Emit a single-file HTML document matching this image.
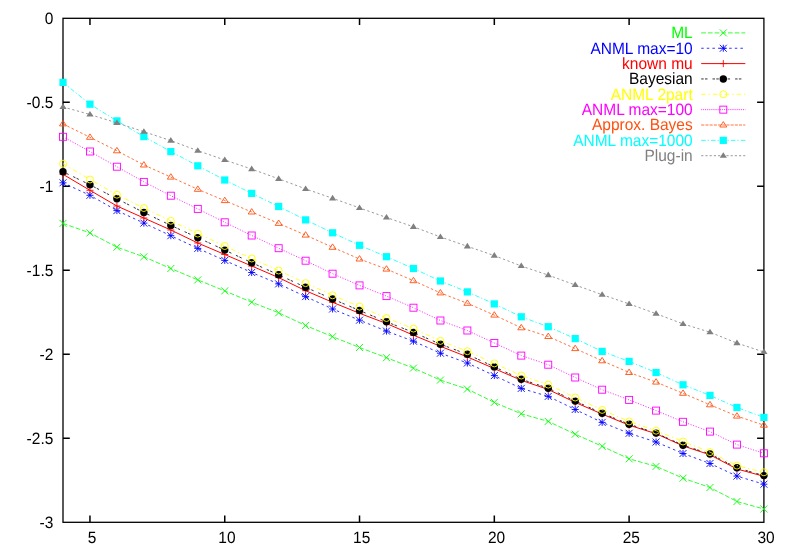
<!DOCTYPE html>
<html><head><meta charset="utf-8"><title>plot</title>
<style>
html,body{margin:0;padding:0;background:#fff;}
body{width:790px;height:553px;position:relative;overflow:hidden;font-family:"Liberation Sans",sans-serif;}
.t{font-family:"Liberation Sans",sans-serif;font-size:16.4px;text-rendering:geometricPrecision;}
</style></head><body>
<svg width="790" height="553" viewBox="0 0 790 553" style="position:absolute;left:0;top:0;will-change:transform">
<rect width="790" height="553" fill="#fff"/>
<rect x="63.0" y="18.3" width="700.9" height="503.99999999999994" fill="none" stroke="#000" stroke-width="1.3"/>
<text transform="translate(53.30,23.80) scale(0.945,1)" text-anchor="end" class="t">0</text>
<text transform="translate(53.30,107.80) scale(0.945,1)" text-anchor="end" class="t">-0.5</text>
<text transform="translate(53.30,191.80) scale(0.945,1)" text-anchor="end" class="t">-1</text>
<text transform="translate(53.30,275.80) scale(0.945,1)" text-anchor="end" class="t">-1.5</text>
<text transform="translate(53.30,359.80) scale(0.945,1)" text-anchor="end" class="t">-2</text>
<text transform="translate(53.30,443.80) scale(0.945,1)" text-anchor="end" class="t">-2.5</text>
<text transform="translate(53.30,527.80) scale(0.945,1)" text-anchor="end" class="t">-3</text>
<text transform="translate(92.16,543.20) scale(0.945,1)" text-anchor="middle" class="t">5</text>
<text transform="translate(226.95,543.20) scale(0.945,1)" text-anchor="middle" class="t">10</text>
<text transform="translate(361.73,543.20) scale(0.945,1)" text-anchor="middle" class="t">15</text>
<text transform="translate(496.52,543.20) scale(0.945,1)" text-anchor="middle" class="t">20</text>
<text transform="translate(631.31,543.20) scale(0.945,1)" text-anchor="middle" class="t">25</text>
<text transform="translate(766.10,543.20) scale(0.945,1)" text-anchor="middle" class="t">30</text>
<path d="M63.0,102.30h6.8M763.9,102.30h-6.8M63.0,186.30h6.8M763.9,186.30h-6.8M63.0,270.30h6.8M763.9,270.30h-6.8M63.0,354.30h6.8M763.9,354.30h-6.8M63.0,438.30h6.8M763.9,438.30h-6.8M89.96,522.3v-6.8M89.96,18.3v6.8M224.75,522.3v-6.8M224.75,18.3v6.8M359.53,522.3v-6.8M359.53,18.3v6.8M494.32,522.3v-6.8M494.32,18.3v6.8M629.11,522.3v-6.8M629.11,18.3v6.8" stroke="#000" stroke-width="1.5" fill="none"/>
<text transform="translate(692.70,38.30) scale(0.945,1)" text-anchor="end" class="t" fill="#00ff00">ML</text>
<path d="M701.2,32.90H745.3" stroke="#00ff00" stroke-width="0.8" stroke-dasharray="4.7,2" fill="none"/>
<path d="M719.80,29.40L726.80,36.40M719.80,36.40L726.80,29.40" stroke="#00ff00" stroke-width="0.9" fill="none"/>
<polyline points="63.00,223.40 89.96,232.90 116.92,247.20 143.87,256.80 170.83,268.50 197.79,279.90 224.75,290.90 251.70,302.20 278.66,312.80 305.62,325.50 332.58,336.70 359.53,347.50 386.49,357.70 413.45,368.10 440.41,380.10 467.37,389.10 494.32,402.40 521.28,413.80 548.24,421.40 575.20,434.20 602.15,446.30 629.11,458.80 656.07,466.40 683.03,478.20 709.98,487.50 736.94,501.50 763.90,509.00" stroke="#00ff00" stroke-width="0.8" stroke-dasharray="4.7,2" fill="none"/>
<path d="M59.50,219.90L66.50,226.90M59.50,226.90L66.50,219.90" stroke="#00ff00" stroke-width="0.9" fill="none"/>
<path d="M86.46,229.40L93.46,236.40M86.46,236.40L93.46,229.40" stroke="#00ff00" stroke-width="0.9" fill="none"/>
<path d="M113.42,243.70L120.42,250.70M113.42,250.70L120.42,243.70" stroke="#00ff00" stroke-width="0.9" fill="none"/>
<path d="M140.37,253.30L147.37,260.30M140.37,260.30L147.37,253.30" stroke="#00ff00" stroke-width="0.9" fill="none"/>
<path d="M167.33,265.00L174.33,272.00M167.33,272.00L174.33,265.00" stroke="#00ff00" stroke-width="0.9" fill="none"/>
<path d="M194.29,276.40L201.29,283.40M194.29,283.40L201.29,276.40" stroke="#00ff00" stroke-width="0.9" fill="none"/>
<path d="M221.25,287.40L228.25,294.40M221.25,294.40L228.25,287.40" stroke="#00ff00" stroke-width="0.9" fill="none"/>
<path d="M248.20,298.70L255.20,305.70M248.20,305.70L255.20,298.70" stroke="#00ff00" stroke-width="0.9" fill="none"/>
<path d="M275.16,309.30L282.16,316.30M275.16,316.30L282.16,309.30" stroke="#00ff00" stroke-width="0.9" fill="none"/>
<path d="M302.12,322.00L309.12,329.00M302.12,329.00L309.12,322.00" stroke="#00ff00" stroke-width="0.9" fill="none"/>
<path d="M329.08,333.20L336.08,340.20M329.08,340.20L336.08,333.20" stroke="#00ff00" stroke-width="0.9" fill="none"/>
<path d="M356.03,344.00L363.03,351.00M356.03,351.00L363.03,344.00" stroke="#00ff00" stroke-width="0.9" fill="none"/>
<path d="M382.99,354.20L389.99,361.20M382.99,361.20L389.99,354.20" stroke="#00ff00" stroke-width="0.9" fill="none"/>
<path d="M409.95,364.60L416.95,371.60M409.95,371.60L416.95,364.60" stroke="#00ff00" stroke-width="0.9" fill="none"/>
<path d="M436.91,376.60L443.91,383.60M436.91,383.60L443.91,376.60" stroke="#00ff00" stroke-width="0.9" fill="none"/>
<path d="M463.87,385.60L470.87,392.60M463.87,392.60L470.87,385.60" stroke="#00ff00" stroke-width="0.9" fill="none"/>
<path d="M490.82,398.90L497.82,405.90M490.82,405.90L497.82,398.90" stroke="#00ff00" stroke-width="0.9" fill="none"/>
<path d="M517.78,410.30L524.78,417.30M517.78,417.30L524.78,410.30" stroke="#00ff00" stroke-width="0.9" fill="none"/>
<path d="M544.74,417.90L551.74,424.90M544.74,424.90L551.74,417.90" stroke="#00ff00" stroke-width="0.9" fill="none"/>
<path d="M571.70,430.70L578.70,437.70M571.70,437.70L578.70,430.70" stroke="#00ff00" stroke-width="0.9" fill="none"/>
<path d="M598.65,442.80L605.65,449.80M598.65,449.80L605.65,442.80" stroke="#00ff00" stroke-width="0.9" fill="none"/>
<path d="M625.61,455.30L632.61,462.30M625.61,462.30L632.61,455.30" stroke="#00ff00" stroke-width="0.9" fill="none"/>
<path d="M652.57,462.90L659.57,469.90M652.57,469.90L659.57,462.90" stroke="#00ff00" stroke-width="0.9" fill="none"/>
<path d="M679.53,474.70L686.53,481.70M679.53,481.70L686.53,474.70" stroke="#00ff00" stroke-width="0.9" fill="none"/>
<path d="M706.48,484.00L713.48,491.00M706.48,491.00L713.48,484.00" stroke="#00ff00" stroke-width="0.9" fill="none"/>
<path d="M733.44,498.00L740.44,505.00M733.44,505.00L740.44,498.00" stroke="#00ff00" stroke-width="0.9" fill="none"/>
<path d="M760.40,505.50L767.40,512.50M760.40,512.50L767.40,505.50" stroke="#00ff00" stroke-width="0.9" fill="none"/>
<text transform="translate(692.70,53.65) scale(0.945,1)" text-anchor="end" class="t" fill="#0000ff">ANML max=10</text>
<path d="M701.2,48.25H745.3" stroke="#0000ff" stroke-width="0.8" stroke-dasharray="2.5,3.1" fill="none"/>
<path d="M719.80,44.75L726.80,51.75M719.80,51.75L726.80,44.75M719.80,48.25L726.80,48.25M723.30,44.75L723.30,51.75" stroke="#0000ff" stroke-width="0.9" fill="none"/>
<polyline points="63.00,182.80 89.96,195.30 116.92,210.60 143.87,223.10 170.83,235.70 197.79,248.40 224.75,260.40 251.70,272.50 278.66,283.90 305.62,296.60 332.58,309.00 359.53,320.20 386.49,331.10 413.45,341.20 440.41,353.20 467.37,363.00 494.32,375.60 521.28,388.40 548.24,396.40 575.20,409.50 602.15,422.40 629.11,433.30 656.07,442.00 683.03,453.50 709.98,463.50 736.94,476.10 763.90,484.20" stroke="#0000ff" stroke-width="0.8" stroke-dasharray="2.5,3.1" fill="none"/>
<path d="M59.50,179.30L66.50,186.30M59.50,186.30L66.50,179.30M59.50,182.80L66.50,182.80M63.00,179.30L63.00,186.30" stroke="#0000ff" stroke-width="0.9" fill="none"/>
<path d="M86.46,191.80L93.46,198.80M86.46,198.80L93.46,191.80M86.46,195.30L93.46,195.30M89.96,191.80L89.96,198.80" stroke="#0000ff" stroke-width="0.9" fill="none"/>
<path d="M113.42,207.10L120.42,214.10M113.42,214.10L120.42,207.10M113.42,210.60L120.42,210.60M116.92,207.10L116.92,214.10" stroke="#0000ff" stroke-width="0.9" fill="none"/>
<path d="M140.37,219.60L147.37,226.60M140.37,226.60L147.37,219.60M140.37,223.10L147.37,223.10M143.87,219.60L143.87,226.60" stroke="#0000ff" stroke-width="0.9" fill="none"/>
<path d="M167.33,232.20L174.33,239.20M167.33,239.20L174.33,232.20M167.33,235.70L174.33,235.70M170.83,232.20L170.83,239.20" stroke="#0000ff" stroke-width="0.9" fill="none"/>
<path d="M194.29,244.90L201.29,251.90M194.29,251.90L201.29,244.90M194.29,248.40L201.29,248.40M197.79,244.90L197.79,251.90" stroke="#0000ff" stroke-width="0.9" fill="none"/>
<path d="M221.25,256.90L228.25,263.90M221.25,263.90L228.25,256.90M221.25,260.40L228.25,260.40M224.75,256.90L224.75,263.90" stroke="#0000ff" stroke-width="0.9" fill="none"/>
<path d="M248.20,269.00L255.20,276.00M248.20,276.00L255.20,269.00M248.20,272.50L255.20,272.50M251.70,269.00L251.70,276.00" stroke="#0000ff" stroke-width="0.9" fill="none"/>
<path d="M275.16,280.40L282.16,287.40M275.16,287.40L282.16,280.40M275.16,283.90L282.16,283.90M278.66,280.40L278.66,287.40" stroke="#0000ff" stroke-width="0.9" fill="none"/>
<path d="M302.12,293.10L309.12,300.10M302.12,300.10L309.12,293.10M302.12,296.60L309.12,296.60M305.62,293.10L305.62,300.10" stroke="#0000ff" stroke-width="0.9" fill="none"/>
<path d="M329.08,305.50L336.08,312.50M329.08,312.50L336.08,305.50M329.08,309.00L336.08,309.00M332.58,305.50L332.58,312.50" stroke="#0000ff" stroke-width="0.9" fill="none"/>
<path d="M356.03,316.70L363.03,323.70M356.03,323.70L363.03,316.70M356.03,320.20L363.03,320.20M359.53,316.70L359.53,323.70" stroke="#0000ff" stroke-width="0.9" fill="none"/>
<path d="M382.99,327.60L389.99,334.60M382.99,334.60L389.99,327.60M382.99,331.10L389.99,331.10M386.49,327.60L386.49,334.60" stroke="#0000ff" stroke-width="0.9" fill="none"/>
<path d="M409.95,337.70L416.95,344.70M409.95,344.70L416.95,337.70M409.95,341.20L416.95,341.20M413.45,337.70L413.45,344.70" stroke="#0000ff" stroke-width="0.9" fill="none"/>
<path d="M436.91,349.70L443.91,356.70M436.91,356.70L443.91,349.70M436.91,353.20L443.91,353.20M440.41,349.70L440.41,356.70" stroke="#0000ff" stroke-width="0.9" fill="none"/>
<path d="M463.87,359.50L470.87,366.50M463.87,366.50L470.87,359.50M463.87,363.00L470.87,363.00M467.37,359.50L467.37,366.50" stroke="#0000ff" stroke-width="0.9" fill="none"/>
<path d="M490.82,372.10L497.82,379.10M490.82,379.10L497.82,372.10M490.82,375.60L497.82,375.60M494.32,372.10L494.32,379.10" stroke="#0000ff" stroke-width="0.9" fill="none"/>
<path d="M517.78,384.90L524.78,391.90M517.78,391.90L524.78,384.90M517.78,388.40L524.78,388.40M521.28,384.90L521.28,391.90" stroke="#0000ff" stroke-width="0.9" fill="none"/>
<path d="M544.74,392.90L551.74,399.90M544.74,399.90L551.74,392.90M544.74,396.40L551.74,396.40M548.24,392.90L548.24,399.90" stroke="#0000ff" stroke-width="0.9" fill="none"/>
<path d="M571.70,406.00L578.70,413.00M571.70,413.00L578.70,406.00M571.70,409.50L578.70,409.50M575.20,406.00L575.20,413.00" stroke="#0000ff" stroke-width="0.9" fill="none"/>
<path d="M598.65,418.90L605.65,425.90M598.65,425.90L605.65,418.90M598.65,422.40L605.65,422.40M602.15,418.90L602.15,425.90" stroke="#0000ff" stroke-width="0.9" fill="none"/>
<path d="M625.61,429.80L632.61,436.80M625.61,436.80L632.61,429.80M625.61,433.30L632.61,433.30M629.11,429.80L629.11,436.80" stroke="#0000ff" stroke-width="0.9" fill="none"/>
<path d="M652.57,438.50L659.57,445.50M652.57,445.50L659.57,438.50M652.57,442.00L659.57,442.00M656.07,438.50L656.07,445.50" stroke="#0000ff" stroke-width="0.9" fill="none"/>
<path d="M679.53,450.00L686.53,457.00M679.53,457.00L686.53,450.00M679.53,453.50L686.53,453.50M683.03,450.00L683.03,457.00" stroke="#0000ff" stroke-width="0.9" fill="none"/>
<path d="M706.48,460.00L713.48,467.00M706.48,467.00L713.48,460.00M706.48,463.50L713.48,463.50M709.98,460.00L709.98,467.00" stroke="#0000ff" stroke-width="0.9" fill="none"/>
<path d="M733.44,472.60L740.44,479.60M733.44,479.60L740.44,472.60M733.44,476.10L740.44,476.10M736.94,472.60L736.94,479.60" stroke="#0000ff" stroke-width="0.9" fill="none"/>
<path d="M760.40,480.70L767.40,487.70M760.40,487.70L767.40,480.70M760.40,484.20L767.40,484.20M763.90,480.70L763.90,487.70" stroke="#0000ff" stroke-width="0.9" fill="none"/>
<text transform="translate(692.70,69.00) scale(0.945,1)" text-anchor="end" class="t" fill="#ff0000">known mu</text>
<path d="M701.2,63.60H745.3" stroke="#ff0000" stroke-width="1.0" fill="none"/>
<path d="M719.80,63.60L726.80,63.60M723.30,60.10L723.30,67.10" stroke="#ff0000" stroke-width="0.9" fill="none"/>
<polyline points="63.00,174.30 89.96,190.30 116.92,206.00 143.87,218.00 170.83,230.00 197.79,243.00 224.75,254.50 251.70,266.00 278.66,277.60 305.62,290.70 332.58,302.30 359.53,313.30 386.49,323.50 413.45,335.20 440.41,346.30 467.37,356.90 494.32,368.60 521.28,380.30 548.24,389.50 575.20,402.40 602.15,414.10 629.11,425.20 656.07,433.70 683.03,445.90 709.98,454.80 736.94,469.00 763.90,476.30" stroke="#ff0000" stroke-width="1.0" fill="none"/>
<path d="M59.50,174.30L66.50,174.30M63.00,170.80L63.00,177.80" stroke="#ff0000" stroke-width="0.9" fill="none"/>
<path d="M86.46,190.30L93.46,190.30M89.96,186.80L89.96,193.80" stroke="#ff0000" stroke-width="0.9" fill="none"/>
<path d="M113.42,206.00L120.42,206.00M116.92,202.50L116.92,209.50" stroke="#ff0000" stroke-width="0.9" fill="none"/>
<path d="M140.37,218.00L147.37,218.00M143.87,214.50L143.87,221.50" stroke="#ff0000" stroke-width="0.9" fill="none"/>
<path d="M167.33,230.00L174.33,230.00M170.83,226.50L170.83,233.50" stroke="#ff0000" stroke-width="0.9" fill="none"/>
<path d="M194.29,243.00L201.29,243.00M197.79,239.50L197.79,246.50" stroke="#ff0000" stroke-width="0.9" fill="none"/>
<path d="M221.25,254.50L228.25,254.50M224.75,251.00L224.75,258.00" stroke="#ff0000" stroke-width="0.9" fill="none"/>
<path d="M248.20,266.00L255.20,266.00M251.70,262.50L251.70,269.50" stroke="#ff0000" stroke-width="0.9" fill="none"/>
<path d="M275.16,277.60L282.16,277.60M278.66,274.10L278.66,281.10" stroke="#ff0000" stroke-width="0.9" fill="none"/>
<path d="M302.12,290.70L309.12,290.70M305.62,287.20L305.62,294.20" stroke="#ff0000" stroke-width="0.9" fill="none"/>
<path d="M329.08,302.30L336.08,302.30M332.58,298.80L332.58,305.80" stroke="#ff0000" stroke-width="0.9" fill="none"/>
<path d="M356.03,313.30L363.03,313.30M359.53,309.80L359.53,316.80" stroke="#ff0000" stroke-width="0.9" fill="none"/>
<path d="M382.99,323.50L389.99,323.50M386.49,320.00L386.49,327.00" stroke="#ff0000" stroke-width="0.9" fill="none"/>
<path d="M409.95,335.20L416.95,335.20M413.45,331.70L413.45,338.70" stroke="#ff0000" stroke-width="0.9" fill="none"/>
<path d="M436.91,346.30L443.91,346.30M440.41,342.80L440.41,349.80" stroke="#ff0000" stroke-width="0.9" fill="none"/>
<path d="M463.87,356.90L470.87,356.90M467.37,353.40L467.37,360.40" stroke="#ff0000" stroke-width="0.9" fill="none"/>
<path d="M490.82,368.60L497.82,368.60M494.32,365.10L494.32,372.10" stroke="#ff0000" stroke-width="0.9" fill="none"/>
<path d="M517.78,380.30L524.78,380.30M521.28,376.80L521.28,383.80" stroke="#ff0000" stroke-width="0.9" fill="none"/>
<path d="M544.74,389.50L551.74,389.50M548.24,386.00L548.24,393.00" stroke="#ff0000" stroke-width="0.9" fill="none"/>
<path d="M571.70,402.40L578.70,402.40M575.20,398.90L575.20,405.90" stroke="#ff0000" stroke-width="0.9" fill="none"/>
<path d="M598.65,414.10L605.65,414.10M602.15,410.60L602.15,417.60" stroke="#ff0000" stroke-width="0.9" fill="none"/>
<path d="M625.61,425.20L632.61,425.20M629.11,421.70L629.11,428.70" stroke="#ff0000" stroke-width="0.9" fill="none"/>
<path d="M652.57,433.70L659.57,433.70M656.07,430.20L656.07,437.20" stroke="#ff0000" stroke-width="0.9" fill="none"/>
<path d="M679.53,445.90L686.53,445.90M683.03,442.40L683.03,449.40" stroke="#ff0000" stroke-width="0.9" fill="none"/>
<path d="M706.48,454.80L713.48,454.80M709.98,451.30L709.98,458.30" stroke="#ff0000" stroke-width="0.9" fill="none"/>
<path d="M733.44,469.00L740.44,469.00M736.94,465.50L736.94,472.50" stroke="#ff0000" stroke-width="0.9" fill="none"/>
<path d="M760.40,476.30L767.40,476.30M763.90,472.80L763.90,479.80" stroke="#ff0000" stroke-width="0.9" fill="none"/>
<text transform="translate(692.70,84.35) scale(0.945,1)" text-anchor="end" class="t" fill="#000000">Bayesian</text>
<path d="M701.2,78.95H745.3" stroke="#000000" stroke-width="0.8" stroke-dasharray="2.5,1.3,2.5,5" fill="none"/>
<circle cx="723.30" cy="78.95" r="3.7" fill="#000000"/>
<polyline points="63.00,171.70 89.96,184.80 116.92,198.80 143.87,212.50 170.83,225.40 197.79,237.70 224.75,250.10 251.70,262.70 278.66,274.80 305.62,287.30 332.58,299.00 359.53,310.50 386.49,321.80 413.45,332.40 440.41,344.20 467.37,354.30 494.32,366.90 521.28,379.20 548.24,388.20 575.20,401.10 602.15,413.20 629.11,424.20 656.07,433.10 683.03,445.20 709.98,453.90 736.94,467.80 763.90,475.60" stroke="#000000" stroke-width="0.8" stroke-dasharray="2.5,1.3,2.5,5" fill="none"/>
<circle cx="63.00" cy="171.70" r="3.7" fill="#000000"/>
<circle cx="89.96" cy="184.80" r="3.7" fill="#000000"/>
<circle cx="116.92" cy="198.80" r="3.7" fill="#000000"/>
<circle cx="143.87" cy="212.50" r="3.7" fill="#000000"/>
<circle cx="170.83" cy="225.40" r="3.7" fill="#000000"/>
<circle cx="197.79" cy="237.70" r="3.7" fill="#000000"/>
<circle cx="224.75" cy="250.10" r="3.7" fill="#000000"/>
<circle cx="251.70" cy="262.70" r="3.7" fill="#000000"/>
<circle cx="278.66" cy="274.80" r="3.7" fill="#000000"/>
<circle cx="305.62" cy="287.30" r="3.7" fill="#000000"/>
<circle cx="332.58" cy="299.00" r="3.7" fill="#000000"/>
<circle cx="359.53" cy="310.50" r="3.7" fill="#000000"/>
<circle cx="386.49" cy="321.80" r="3.7" fill="#000000"/>
<circle cx="413.45" cy="332.40" r="3.7" fill="#000000"/>
<circle cx="440.41" cy="344.20" r="3.7" fill="#000000"/>
<circle cx="467.37" cy="354.30" r="3.7" fill="#000000"/>
<circle cx="494.32" cy="366.90" r="3.7" fill="#000000"/>
<circle cx="521.28" cy="379.20" r="3.7" fill="#000000"/>
<circle cx="548.24" cy="388.20" r="3.7" fill="#000000"/>
<circle cx="575.20" cy="401.10" r="3.7" fill="#000000"/>
<circle cx="602.15" cy="413.20" r="3.7" fill="#000000"/>
<circle cx="629.11" cy="424.20" r="3.7" fill="#000000"/>
<circle cx="656.07" cy="433.10" r="3.7" fill="#000000"/>
<circle cx="683.03" cy="445.20" r="3.7" fill="#000000"/>
<circle cx="709.98" cy="453.90" r="3.7" fill="#000000"/>
<circle cx="736.94" cy="467.80" r="3.7" fill="#000000"/>
<circle cx="763.90" cy="475.60" r="3.7" fill="#000000"/>
<text transform="translate(692.70,99.70) scale(0.945,1)" text-anchor="end" class="t" fill="#ffff00">ANML 2part</text>
<path d="M701.2,94.30H745.3" stroke="#ffff00" stroke-width="0.8" stroke-dasharray="4.5,2.9,1.4,3" fill="none"/>
<circle cx="723.30" cy="94.30" r="3.5" fill="none" stroke="#ffff00" stroke-width="0.9"/>
<polyline points="63.00,163.70 89.96,179.50 116.92,194.70 143.87,208.00 170.83,220.80 197.79,233.60 224.75,246.00 251.70,258.50 278.66,270.50 305.62,283.10 332.58,295.30 359.53,306.60 386.49,318.00 413.45,328.60 440.41,340.90 467.37,351.20 494.32,363.40 521.28,375.50 548.24,384.60 575.20,397.50 602.15,409.90 629.11,421.40 656.07,430.70 683.03,441.50 709.98,452.10 736.94,465.60 763.90,472.30" stroke="#ffff00" stroke-width="0.8" stroke-dasharray="4.5,2.9,1.4,3" fill="none"/>
<circle cx="63.00" cy="163.70" r="3.5" fill="none" stroke="#ffff00" stroke-width="0.9"/>
<circle cx="89.96" cy="179.50" r="3.5" fill="none" stroke="#ffff00" stroke-width="0.9"/>
<circle cx="116.92" cy="194.70" r="3.5" fill="none" stroke="#ffff00" stroke-width="0.9"/>
<circle cx="143.87" cy="208.00" r="3.5" fill="none" stroke="#ffff00" stroke-width="0.9"/>
<circle cx="170.83" cy="220.80" r="3.5" fill="none" stroke="#ffff00" stroke-width="0.9"/>
<circle cx="197.79" cy="233.60" r="3.5" fill="none" stroke="#ffff00" stroke-width="0.9"/>
<circle cx="224.75" cy="246.00" r="3.5" fill="none" stroke="#ffff00" stroke-width="0.9"/>
<circle cx="251.70" cy="258.50" r="3.5" fill="none" stroke="#ffff00" stroke-width="0.9"/>
<circle cx="278.66" cy="270.50" r="3.5" fill="none" stroke="#ffff00" stroke-width="0.9"/>
<circle cx="305.62" cy="283.10" r="3.5" fill="none" stroke="#ffff00" stroke-width="0.9"/>
<circle cx="332.58" cy="295.30" r="3.5" fill="none" stroke="#ffff00" stroke-width="0.9"/>
<circle cx="359.53" cy="306.60" r="3.5" fill="none" stroke="#ffff00" stroke-width="0.9"/>
<circle cx="386.49" cy="318.00" r="3.5" fill="none" stroke="#ffff00" stroke-width="0.9"/>
<circle cx="413.45" cy="328.60" r="3.5" fill="none" stroke="#ffff00" stroke-width="0.9"/>
<circle cx="440.41" cy="340.90" r="3.5" fill="none" stroke="#ffff00" stroke-width="0.9"/>
<circle cx="467.37" cy="351.20" r="3.5" fill="none" stroke="#ffff00" stroke-width="0.9"/>
<circle cx="494.32" cy="363.40" r="3.5" fill="none" stroke="#ffff00" stroke-width="0.9"/>
<circle cx="521.28" cy="375.50" r="3.5" fill="none" stroke="#ffff00" stroke-width="0.9"/>
<circle cx="548.24" cy="384.60" r="3.5" fill="none" stroke="#ffff00" stroke-width="0.9"/>
<circle cx="575.20" cy="397.50" r="3.5" fill="none" stroke="#ffff00" stroke-width="0.9"/>
<circle cx="602.15" cy="409.90" r="3.5" fill="none" stroke="#ffff00" stroke-width="0.9"/>
<circle cx="629.11" cy="421.40" r="3.5" fill="none" stroke="#ffff00" stroke-width="0.9"/>
<circle cx="656.07" cy="430.70" r="3.5" fill="none" stroke="#ffff00" stroke-width="0.9"/>
<circle cx="683.03" cy="441.50" r="3.5" fill="none" stroke="#ffff00" stroke-width="0.9"/>
<circle cx="709.98" cy="452.10" r="3.5" fill="none" stroke="#ffff00" stroke-width="0.9"/>
<circle cx="736.94" cy="465.60" r="3.5" fill="none" stroke="#ffff00" stroke-width="0.9"/>
<circle cx="763.90" cy="472.30" r="3.5" fill="none" stroke="#ffff00" stroke-width="0.9"/>
<text transform="translate(692.70,115.05) scale(0.945,1)" text-anchor="end" class="t" fill="#ff00ff">ANML max=100</text>
<path d="M701.2,109.65H745.3" stroke="#ff00ff" stroke-width="0.8" stroke-dasharray="1,0.9" fill="none"/>
<rect x="719.80" y="106.15" width="7.0" height="7.0" fill="none" stroke="#ff00ff" stroke-width="0.9"/>
<polyline points="63.00,136.80 89.96,151.50 116.92,166.70 143.87,181.90 170.83,195.70 197.79,208.90 224.75,222.30 251.70,235.50 278.66,248.20 305.62,260.70 332.58,273.70 359.53,285.40 386.49,296.10 413.45,307.70 440.41,320.50 467.37,330.50 494.32,343.00 521.28,355.60 548.24,364.70 575.20,377.50 602.15,389.70 629.11,399.90 656.07,410.60 683.03,421.80 709.98,431.60 736.94,444.60 763.90,453.30" stroke="#ff00ff" stroke-width="0.8" stroke-dasharray="1.1,1.6" fill="none"/>
<rect x="59.50" y="133.30" width="7.0" height="7.0" fill="none" stroke="#ff00ff" stroke-width="0.9"/>
<rect x="86.46" y="148.00" width="7.0" height="7.0" fill="none" stroke="#ff00ff" stroke-width="0.9"/>
<rect x="113.42" y="163.20" width="7.0" height="7.0" fill="none" stroke="#ff00ff" stroke-width="0.9"/>
<rect x="140.37" y="178.40" width="7.0" height="7.0" fill="none" stroke="#ff00ff" stroke-width="0.9"/>
<rect x="167.33" y="192.20" width="7.0" height="7.0" fill="none" stroke="#ff00ff" stroke-width="0.9"/>
<rect x="194.29" y="205.40" width="7.0" height="7.0" fill="none" stroke="#ff00ff" stroke-width="0.9"/>
<rect x="221.25" y="218.80" width="7.0" height="7.0" fill="none" stroke="#ff00ff" stroke-width="0.9"/>
<rect x="248.20" y="232.00" width="7.0" height="7.0" fill="none" stroke="#ff00ff" stroke-width="0.9"/>
<rect x="275.16" y="244.70" width="7.0" height="7.0" fill="none" stroke="#ff00ff" stroke-width="0.9"/>
<rect x="302.12" y="257.20" width="7.0" height="7.0" fill="none" stroke="#ff00ff" stroke-width="0.9"/>
<rect x="329.08" y="270.20" width="7.0" height="7.0" fill="none" stroke="#ff00ff" stroke-width="0.9"/>
<rect x="356.03" y="281.90" width="7.0" height="7.0" fill="none" stroke="#ff00ff" stroke-width="0.9"/>
<rect x="382.99" y="292.60" width="7.0" height="7.0" fill="none" stroke="#ff00ff" stroke-width="0.9"/>
<rect x="409.95" y="304.20" width="7.0" height="7.0" fill="none" stroke="#ff00ff" stroke-width="0.9"/>
<rect x="436.91" y="317.00" width="7.0" height="7.0" fill="none" stroke="#ff00ff" stroke-width="0.9"/>
<rect x="463.87" y="327.00" width="7.0" height="7.0" fill="none" stroke="#ff00ff" stroke-width="0.9"/>
<rect x="490.82" y="339.50" width="7.0" height="7.0" fill="none" stroke="#ff00ff" stroke-width="0.9"/>
<rect x="517.78" y="352.10" width="7.0" height="7.0" fill="none" stroke="#ff00ff" stroke-width="0.9"/>
<rect x="544.74" y="361.20" width="7.0" height="7.0" fill="none" stroke="#ff00ff" stroke-width="0.9"/>
<rect x="571.70" y="374.00" width="7.0" height="7.0" fill="none" stroke="#ff00ff" stroke-width="0.9"/>
<rect x="598.65" y="386.20" width="7.0" height="7.0" fill="none" stroke="#ff00ff" stroke-width="0.9"/>
<rect x="625.61" y="396.40" width="7.0" height="7.0" fill="none" stroke="#ff00ff" stroke-width="0.9"/>
<rect x="652.57" y="407.10" width="7.0" height="7.0" fill="none" stroke="#ff00ff" stroke-width="0.9"/>
<rect x="679.53" y="418.30" width="7.0" height="7.0" fill="none" stroke="#ff00ff" stroke-width="0.9"/>
<rect x="706.48" y="428.10" width="7.0" height="7.0" fill="none" stroke="#ff00ff" stroke-width="0.9"/>
<rect x="733.44" y="441.10" width="7.0" height="7.0" fill="none" stroke="#ff00ff" stroke-width="0.9"/>
<rect x="760.40" y="449.80" width="7.0" height="7.0" fill="none" stroke="#ff00ff" stroke-width="0.9"/>
<text transform="translate(692.70,130.40) scale(0.945,1)" text-anchor="end" class="t" fill="#ff5010">Approx. Bayes</text>
<path d="M701.2,125.00H745.3" stroke="#ff5010" stroke-width="0.8" stroke-dasharray="3.1,1.1" fill="none"/>
<path d="M723.30,121.60L719.80,127.00L726.80,127.00Z" fill="none" stroke="#ff5010" stroke-width="0.9"/>
<polyline points="63.00,123.90 89.96,137.30 116.92,150.80 143.87,165.00 170.83,177.10 197.79,189.30 224.75,200.60 251.70,212.00 278.66,223.40 305.62,235.10 332.58,247.30 359.53,259.00 386.49,269.10 413.45,280.70 440.41,292.90 467.37,303.30 494.32,315.10 521.28,327.80 548.24,336.50 575.20,348.60 602.15,360.80 629.11,372.50 656.07,382.10 683.03,393.30 709.98,404.80 736.94,416.10 763.90,425.20" stroke="#ff5010" stroke-width="0.8" stroke-dasharray="2.5,2.3" fill="none"/>
<path d="M63.00,120.50L59.50,125.90L66.50,125.90Z" fill="none" stroke="#ff5010" stroke-width="0.9"/>
<path d="M89.96,133.90L86.46,139.30L93.46,139.30Z" fill="none" stroke="#ff5010" stroke-width="0.9"/>
<path d="M116.92,147.40L113.42,152.80L120.42,152.80Z" fill="none" stroke="#ff5010" stroke-width="0.9"/>
<path d="M143.87,161.60L140.37,167.00L147.37,167.00Z" fill="none" stroke="#ff5010" stroke-width="0.9"/>
<path d="M170.83,173.70L167.33,179.10L174.33,179.10Z" fill="none" stroke="#ff5010" stroke-width="0.9"/>
<path d="M197.79,185.90L194.29,191.30L201.29,191.30Z" fill="none" stroke="#ff5010" stroke-width="0.9"/>
<path d="M224.75,197.20L221.25,202.60L228.25,202.60Z" fill="none" stroke="#ff5010" stroke-width="0.9"/>
<path d="M251.70,208.60L248.20,214.00L255.20,214.00Z" fill="none" stroke="#ff5010" stroke-width="0.9"/>
<path d="M278.66,220.00L275.16,225.40L282.16,225.40Z" fill="none" stroke="#ff5010" stroke-width="0.9"/>
<path d="M305.62,231.70L302.12,237.10L309.12,237.10Z" fill="none" stroke="#ff5010" stroke-width="0.9"/>
<path d="M332.58,243.90L329.08,249.30L336.08,249.30Z" fill="none" stroke="#ff5010" stroke-width="0.9"/>
<path d="M359.53,255.60L356.03,261.00L363.03,261.00Z" fill="none" stroke="#ff5010" stroke-width="0.9"/>
<path d="M386.49,265.70L382.99,271.10L389.99,271.10Z" fill="none" stroke="#ff5010" stroke-width="0.9"/>
<path d="M413.45,277.30L409.95,282.70L416.95,282.70Z" fill="none" stroke="#ff5010" stroke-width="0.9"/>
<path d="M440.41,289.50L436.91,294.90L443.91,294.90Z" fill="none" stroke="#ff5010" stroke-width="0.9"/>
<path d="M467.37,299.90L463.87,305.30L470.87,305.30Z" fill="none" stroke="#ff5010" stroke-width="0.9"/>
<path d="M494.32,311.70L490.82,317.10L497.82,317.10Z" fill="none" stroke="#ff5010" stroke-width="0.9"/>
<path d="M521.28,324.40L517.78,329.80L524.78,329.80Z" fill="none" stroke="#ff5010" stroke-width="0.9"/>
<path d="M548.24,333.10L544.74,338.50L551.74,338.50Z" fill="none" stroke="#ff5010" stroke-width="0.9"/>
<path d="M575.20,345.20L571.70,350.60L578.70,350.60Z" fill="none" stroke="#ff5010" stroke-width="0.9"/>
<path d="M602.15,357.40L598.65,362.80L605.65,362.80Z" fill="none" stroke="#ff5010" stroke-width="0.9"/>
<path d="M629.11,369.10L625.61,374.50L632.61,374.50Z" fill="none" stroke="#ff5010" stroke-width="0.9"/>
<path d="M656.07,378.70L652.57,384.10L659.57,384.10Z" fill="none" stroke="#ff5010" stroke-width="0.9"/>
<path d="M683.03,389.90L679.53,395.30L686.53,395.30Z" fill="none" stroke="#ff5010" stroke-width="0.9"/>
<path d="M709.98,401.40L706.48,406.80L713.48,406.80Z" fill="none" stroke="#ff5010" stroke-width="0.9"/>
<path d="M736.94,412.70L733.44,418.10L740.44,418.10Z" fill="none" stroke="#ff5010" stroke-width="0.9"/>
<path d="M763.90,421.80L760.40,427.20L767.40,427.20Z" fill="none" stroke="#ff5010" stroke-width="0.9"/>
<text transform="translate(692.70,145.75) scale(0.945,1)" text-anchor="end" class="t" fill="#00ffff">ANML max=1000</text>
<path d="M701.2,140.35H745.3" stroke="#00ffff" stroke-width="0.8" stroke-dasharray="4.5,2,1.2,2.2" fill="none"/>
<rect x="719.70" y="136.75" width="7.2" height="7.2" fill="#00ffff"/>
<polyline points="63.00,82.40 89.96,104.20 116.92,120.90 143.87,136.60 170.83,151.60 197.79,165.80 224.75,180.00 251.70,193.40 278.66,206.50 305.62,219.90 332.58,232.80 359.53,245.30 386.49,256.70 413.45,268.50 440.41,281.00 467.37,291.90 494.32,303.90 521.28,316.80 548.24,326.70 575.20,338.60 602.15,351.40 629.11,361.40 656.07,372.50 683.03,384.80 709.98,395.40 736.94,407.50 763.90,417.40" stroke="#00ffff" stroke-width="0.8" stroke-dasharray="4.5,2,1.2,2.2" fill="none"/>
<rect x="59.40" y="78.80" width="7.2" height="7.2" fill="#00ffff"/>
<rect x="86.36" y="100.60" width="7.2" height="7.2" fill="#00ffff"/>
<rect x="113.32" y="117.30" width="7.2" height="7.2" fill="#00ffff"/>
<rect x="140.27" y="133.00" width="7.2" height="7.2" fill="#00ffff"/>
<rect x="167.23" y="148.00" width="7.2" height="7.2" fill="#00ffff"/>
<rect x="194.19" y="162.20" width="7.2" height="7.2" fill="#00ffff"/>
<rect x="221.15" y="176.40" width="7.2" height="7.2" fill="#00ffff"/>
<rect x="248.10" y="189.80" width="7.2" height="7.2" fill="#00ffff"/>
<rect x="275.06" y="202.90" width="7.2" height="7.2" fill="#00ffff"/>
<rect x="302.02" y="216.30" width="7.2" height="7.2" fill="#00ffff"/>
<rect x="328.98" y="229.20" width="7.2" height="7.2" fill="#00ffff"/>
<rect x="355.93" y="241.70" width="7.2" height="7.2" fill="#00ffff"/>
<rect x="382.89" y="253.10" width="7.2" height="7.2" fill="#00ffff"/>
<rect x="409.85" y="264.90" width="7.2" height="7.2" fill="#00ffff"/>
<rect x="436.81" y="277.40" width="7.2" height="7.2" fill="#00ffff"/>
<rect x="463.77" y="288.30" width="7.2" height="7.2" fill="#00ffff"/>
<rect x="490.72" y="300.30" width="7.2" height="7.2" fill="#00ffff"/>
<rect x="517.68" y="313.20" width="7.2" height="7.2" fill="#00ffff"/>
<rect x="544.64" y="323.10" width="7.2" height="7.2" fill="#00ffff"/>
<rect x="571.60" y="335.00" width="7.2" height="7.2" fill="#00ffff"/>
<rect x="598.55" y="347.80" width="7.2" height="7.2" fill="#00ffff"/>
<rect x="625.51" y="357.80" width="7.2" height="7.2" fill="#00ffff"/>
<rect x="652.47" y="368.90" width="7.2" height="7.2" fill="#00ffff"/>
<rect x="679.43" y="381.20" width="7.2" height="7.2" fill="#00ffff"/>
<rect x="706.38" y="391.80" width="7.2" height="7.2" fill="#00ffff"/>
<rect x="733.34" y="403.90" width="7.2" height="7.2" fill="#00ffff"/>
<rect x="760.30" y="413.80" width="7.2" height="7.2" fill="#00ffff"/>
<text transform="translate(692.70,161.10) scale(0.945,1)" text-anchor="end" class="t" fill="#808080">Plug-in</text>
<path d="M701.2,155.70H745.3" stroke="#808080" stroke-width="0.8" stroke-dasharray="2.2,2" fill="none"/>
<path d="M723.30,152.20L719.70,157.80L726.90,157.80Z" fill="#808080"/>
<polyline points="63.00,106.90 89.96,114.50 116.92,122.90 143.87,131.70 170.83,140.60 197.79,150.70 224.75,160.00 251.70,169.10 278.66,178.80 305.62,188.90 332.58,198.30 359.53,207.90 386.49,217.50 413.45,226.80 440.41,236.90 467.37,246.30 494.32,255.60 521.28,266.00 548.24,275.10 575.20,285.00 602.15,294.70 629.11,303.90 656.07,313.70 683.03,323.90 709.98,332.20 736.94,343.10 763.90,352.00" stroke="#808080" stroke-width="0.8" stroke-dasharray="2.3,2.5" fill="none"/>
<path d="M63.00,103.40L59.40,109.00L66.60,109.00Z" fill="#808080"/>
<path d="M89.96,111.00L86.36,116.60L93.56,116.60Z" fill="#808080"/>
<path d="M116.92,119.40L113.32,125.00L120.52,125.00Z" fill="#808080"/>
<path d="M143.87,128.20L140.27,133.80L147.47,133.80Z" fill="#808080"/>
<path d="M170.83,137.10L167.23,142.70L174.43,142.70Z" fill="#808080"/>
<path d="M197.79,147.20L194.19,152.80L201.39,152.80Z" fill="#808080"/>
<path d="M224.75,156.50L221.15,162.10L228.35,162.10Z" fill="#808080"/>
<path d="M251.70,165.60L248.10,171.20L255.30,171.20Z" fill="#808080"/>
<path d="M278.66,175.30L275.06,180.90L282.26,180.90Z" fill="#808080"/>
<path d="M305.62,185.40L302.02,191.00L309.22,191.00Z" fill="#808080"/>
<path d="M332.58,194.80L328.98,200.40L336.18,200.40Z" fill="#808080"/>
<path d="M359.53,204.40L355.93,210.00L363.13,210.00Z" fill="#808080"/>
<path d="M386.49,214.00L382.89,219.60L390.09,219.60Z" fill="#808080"/>
<path d="M413.45,223.30L409.85,228.90L417.05,228.90Z" fill="#808080"/>
<path d="M440.41,233.40L436.81,239.00L444.01,239.00Z" fill="#808080"/>
<path d="M467.37,242.80L463.77,248.40L470.97,248.40Z" fill="#808080"/>
<path d="M494.32,252.10L490.72,257.70L497.92,257.70Z" fill="#808080"/>
<path d="M521.28,262.50L517.68,268.10L524.88,268.10Z" fill="#808080"/>
<path d="M548.24,271.60L544.64,277.20L551.84,277.20Z" fill="#808080"/>
<path d="M575.20,281.50L571.60,287.10L578.80,287.10Z" fill="#808080"/>
<path d="M602.15,291.20L598.55,296.80L605.75,296.80Z" fill="#808080"/>
<path d="M629.11,300.40L625.51,306.00L632.71,306.00Z" fill="#808080"/>
<path d="M656.07,310.20L652.47,315.80L659.67,315.80Z" fill="#808080"/>
<path d="M683.03,320.40L679.43,326.00L686.63,326.00Z" fill="#808080"/>
<path d="M709.98,328.70L706.38,334.30L713.58,334.30Z" fill="#808080"/>
<path d="M736.94,339.60L733.34,345.20L740.54,345.20Z" fill="#808080"/>
<path d="M763.90,348.50L760.30,354.10L767.50,354.10Z" fill="#808080"/>
</svg>
</body></html>
